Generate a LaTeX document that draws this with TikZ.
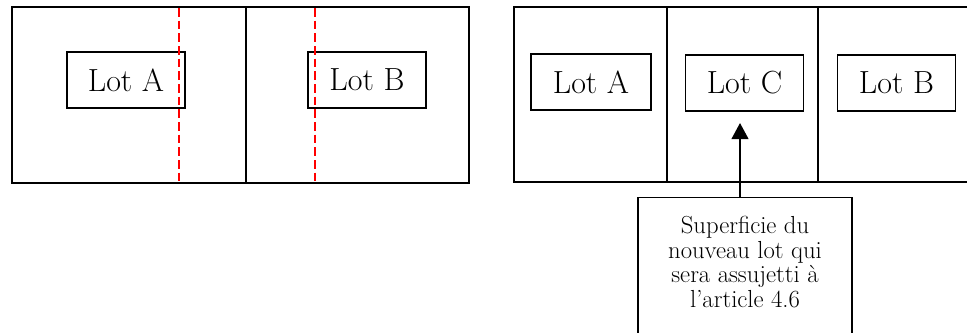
\documentclass[tikz,border=0pt]{standalone}
\usetikzlibrary{arrows.meta}
\begin{document}
\begin{tikzpicture}[x=0.75pt,y=-0.75pt,
  frame/.style={draw=black,line width=0.8pt},
  lotbox/.style={draw=black,line width=0.8pt,minimum width=88.5pt,minimum height=42pt,inner sep=0pt,font=\fontsize{24}{26}\selectfont},
  redcut/.style={draw=red,line width=1.1pt,dash pattern=on 6.5pt off 3pt},
  calloutbox/.style={draw=black,line width=0.8pt,minimum width=160.5pt,minimum height=110pt,inner sep=0pt},
  callouttext/.style={align=center,inner sep=0pt,font=\fontsize{18.5}{18.5}\selectfont},
  pointer/.style={draw=black,line width=1.5pt,-{Triangle[width=12.5pt,length=12pt]}}
]
\useasboundingbox (0,0) rectangle (967,332);
\clip (0,0) rectangle (967,332);
% left plan
\draw[frame] (12,7) rectangle (469,183);
\coordinate (ldivtop) at (246,7);
\coordinate (ldivbot) at (246,183);
\draw[frame] (ldivtop) -- (ldivbot);
\node[lotbox] (lA) at (126,80) {Lot A};
\node[lotbox] (lB) at (367,80) {Lot B};
\coordinate (r1top) at (179,8);
\coordinate (r1bot) at (179,181);
\coordinate (r2top) at (315,8);
\coordinate (r2bot) at (315,181);
\draw[redcut] (r1top) -- (r1bot);
\draw[redcut] (r2top) -- (r2bot);
% right plan
\draw[frame] (514,7) rectangle (980,182);
\coordinate (d1top) at (667,7);
\coordinate (d1bot) at (667,182);
\coordinate (d2top) at (818,7);
\coordinate (d2bot) at (818,182);
\draw[frame] (d1top) -- (d1bot);
\draw[frame] (d2top) -- (d2bot);
\node[lotbox,minimum width=90pt] (rA) at (591,82) {Lot A};
\node[lotbox,minimum width=89pt] (rC) at (744.5,83) {Lot C};
\node[lotbox,minimum width=89pt] (rB) at (896.5,83) {Lot B};
% callout
\node[calloutbox,anchor=north] (co) at (745,197) {};
\node[callouttext] (cotext) at (745,262) {Superficie du\\nouveau lot qui\\sera assujetti à\\l’article 4.6};
\coordinate (tip) at (740,123);
\draw[pointer] (co.north -| tip) -- (tip);
\end{tikzpicture}
\end{document}
